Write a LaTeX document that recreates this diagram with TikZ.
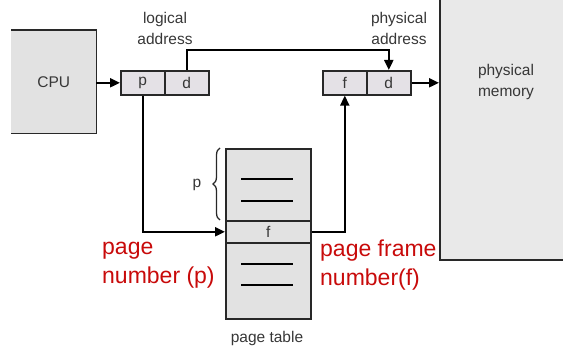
\documentclass[tikz,border=0pt]{standalone}
\usepackage{fontspec}
\setmainfont{Liberation Sans}
\usetikzlibrary{arrows.meta,decorations.pathreplacing}
\definecolor{boxfill}{RGB}{226,226,226}
\definecolor{cellfill}{RGB}{228,225,230}
\definecolor{memfill}{RGB}{233,233,233}
\definecolor{edge}{RGB}{40,40,40}
\definecolor{labelgray}{RGB}{55,55,55}
\definecolor{notered}{RGB}{200,10,10}
\tikzset{
  box/.style={fill=boxfill, draw=edge, line width=1.6pt, inner sep=0pt},
  cell/.style={fill=cellfill, draw=edge, line width=1.6pt, inner sep=0pt,
    minimum width=44pt, minimum height=24pt, text=labelgray,
    font=\fontsize{15.5}{18}\selectfont},
  lbl/.style={text=labelgray, align=center, inner sep=0pt,
    font=\fontsize{15.5}{21}\selectfont},
  note/.style={text=notered, align=left, inner sep=0pt,
    font=\fontsize{23}{29}\selectfont},
  link/.style={draw=black, line width=2pt, -{Triangle[length=10pt,width=9pt]}},
  entry/.style={draw=black, line width=1.7pt},
}
\begin{document}
\begin{tikzpicture}[x=1pt,y=-1pt]
\useasboundingbox (0,0) rectangle (563,347);

% CPU (left side open)
\node[fill=boxfill, minimum width=85pt, minimum height=103pt, inner sep=0pt,
  anchor=north west, text=labelgray, font=\fontsize{15.5}{18}\selectfont]
  (cpu) at (11,30) {CPU};
\draw[draw=edge, line width=1.6pt] (cpu.north west) -- (cpu.north east)
  -- (cpu.south east) -- (cpu.south west);

% physical memory
\node[box, fill=memfill, minimum width=130pt, minimum height=265pt,
  anchor=south west] (mem) at (439,261) {};
\node[lbl] (memtxt) at (506,82) {physical\\memory};

% logical address
\node[cell, anchor=north west] (lp) at (120,70) {p};
\node[cell, anchor=north west] (ld) at (164,70) {d};
\node[lbl] (llab) at (165,28) {logical\\address};

% physical address
\node[cell, anchor=north west] (pf) at (322,70) {f};
\node[cell, anchor=north west] (pd) at (366,70) {d};
\node[lbl] (plab) at (399,28) {physical\\address};

% page table
\node[box, minimum width=85pt, minimum height=72pt, anchor=north west] (ptop) at (225,148) {};
\node[box, minimum width=85pt, minimum height=22pt, anchor=north west,
  text=labelgray, font=\fontsize{15.5}{18}\selectfont] (prow) at (225,220) {f};
\node[box, minimum width=85pt, minimum height=76pt, anchor=north west] (pbot) at (225,242) {};
\draw[entry] (241,179) -- (293,179);
\draw[entry] (241,201) -- (293,201);
\draw[entry] (241,264) -- (293,264);
\draw[entry] (241,285) -- (293,285);
\node[lbl] (ptlab) at (267,338) {page table};

% brace marking entry p
\draw[draw=edge, line width=1.3pt, decorate, decoration={brace, amplitude=7pt}]
  (220,220) -- (220,148);
\node[lbl] (pbr) at (197,185) {p};

% connectors
\coordinate (up1) at (ld.north |- 0,50);
\coordinate (up2) at (pd.north |- 0,50);
\coordinate (down1) at (lp.south |- prow.west);
\coordinate (right1) at (pf.south |- prow.east);
\draw[link] (cpu.east |- lp.west) -- (lp.west);
\draw[link] (ld.north) -- (up1) -- (up2) -- (pd.north);
\draw[link] (pd.east) -- (mem.west |- pd.east);
\draw[link] (lp.south) -- (down1) -- (prow.west);
\draw[link] (prow.east) -- (right1) -- (pf.south);

% annotations
\node[note, anchor=west] (pn) at (102,265) {page\\number (p)};
\node[note, anchor=west] (fn) at (320,265) {page frame\\number(f)};
\end{tikzpicture}
\end{document}
